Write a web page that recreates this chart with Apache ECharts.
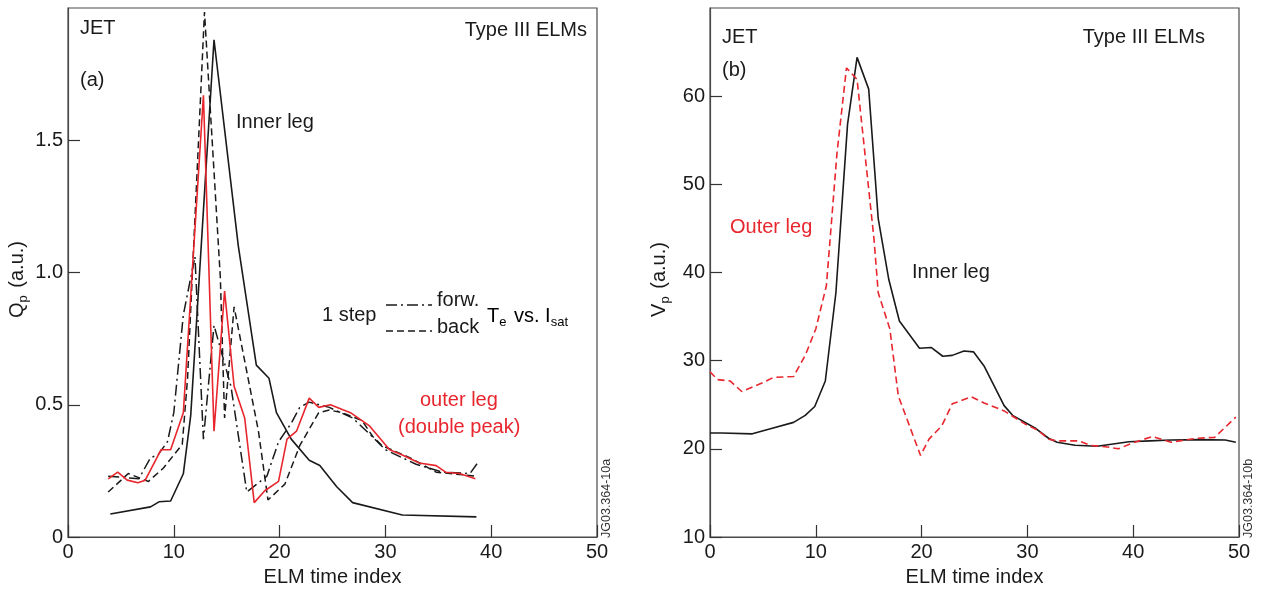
<!DOCTYPE html>
<html><head><meta charset="utf-8">
<script src="https://cdn.jsdelivr.net/npm/echarts@6/dist/echarts.min.js"></script>
<style>html,body{margin:0;padding:0;background:#fff}#c{width:1263px;height:592px}</style>
</head><body><div id="c"></div>
<script>
// Panel (a): Qp vs ELM time index
const innerQ = [[4.0,0.087],[7.8,0.114],[8.6,0.133],[9.7,0.136],[10.9,0.239],[11.6,0.46],[13.8,1.88],[16.1,1.10],[17.8,0.65],[19.0,0.60],[19.7,0.47],[21.1,0.37],[22.8,0.29],[23.8,0.27],[25.4,0.19],[26.9,0.13],[31.6,0.083],[38.6,0.076]];
const outerQ = [[3.8,0.22],[4.7,0.245],[5.6,0.215],[6.6,0.205],[7.3,0.215],[8.8,0.33],[9.7,0.33],[10.9,0.47],[12.8,1.67],[13.8,0.40],[14.8,0.93],[15.7,0.57],[16.7,0.45],[17.6,0.13],[18.6,0.175],[19.9,0.21],[20.7,0.37],[21.6,0.40],[22.8,0.525],[23.7,0.49],[24.8,0.50],[26.7,0.47],[28.5,0.42],[30.4,0.33],[31.6,0.31],[33.2,0.28],[34.8,0.27],[35.7,0.245],[37.0,0.24],[38.5,0.22]];
const forwQ = [[3.8,0.23],[6.7,0.22],[7.8,0.30],[8.5,0.31],[9.4,0.36],[10.0,0.47],[10.9,0.84],[12.0,1.06],[12.8,0.37],[13.8,0.80],[15.4,0.57],[16.9,0.17],[18.8,0.23],[19.9,0.36],[21.1,0.43],[21.9,0.49],[22.8,0.51],[24.7,0.49],[26.9,0.45],[28.5,0.39],[30.0,0.33],[32.9,0.275],[35.4,0.245],[38.0,0.24],[38.8,0.285]];
const backQ = [[3.8,0.17],[5.7,0.24],[7.6,0.21],[9.0,0.26],[10.8,0.35],[11.3,0.60],[12.9,1.985],[14.4,0.98],[14.8,0.45],[15.7,0.87],[18.0,0.40],[18.9,0.14],[20.5,0.20],[21.9,0.345],[23.7,0.47],[24.7,0.48],[25.9,0.47],[27.8,0.44],[28.8,0.38],[29.7,0.345],[32.3,0.30],[34.8,0.245],[38.6,0.23]];
// Panel (b): Vp vs ELM time index
const innerV = [[0,21.8],[1.1,21.8],[4.0,21.7],[5.8,22.3],[7.9,23.0],[9.0,23.8],[9.9,24.8],[10.9,27.7],[11.9,37.7],[13.0,56.8],[13.9,64.4],[15.0,60.8],[15.9,46.1],[16.9,39.2],[17.9,34.5],[19.8,31.4],[20.9,31.5],[22.0,30.5],[22.9,30.6],[24.0,31.1],[24.9,31.0],[25.9,29.4],[27.8,24.9],[28.6,23.8],[30.8,22.3],[32.0,21.2],[32.8,20.75],[34.5,20.4],[36.6,20.3],[39.6,20.8],[41.6,20.9],[43.6,21.0],[46.4,21.05],[48.7,21.0],[49.7,20.75]];
const outerV = [[0,28.75],[0.7,27.85],[1.9,27.7],[3.0,26.5],[4.8,27.4],[6.0,28.1],[7.9,28.2],[9.0,30.6],[10.0,33.6],[11.0,38.5],[12.0,53.5],[12.9,63.2],[13.9,61.9],[15.5,43.8],[15.9,37.7],[17.0,33.6],[17.8,26.0],[19.9,19.25],[20.7,21.1],[21.9,22.6],[22.9,25.1],[24.7,25.9],[25.9,25.2],[27.8,24.3],[29.8,22.8],[31.0,22.1],[32.0,21.1],[32.8,20.9],[34.9,20.9],[35.9,20.4],[37.6,20.2],[38.6,20.0],[39.8,20.6],[41.8,21.4],[43.6,20.75],[46.0,21.2],[47.7,21.3],[49.7,23.6]];

const FONT = 'Liberation Sans';
const BLACK = '#1a1a1a', RED = '#e8262d', AX = '#4a4a4a';
const chart = echarts.init(document.getElementById('c'), null, {renderer:'canvas'});

function xAx(gi){return {type:'value',gridIndex:gi,min:0,max:50,interval:10,
  name:'ELM time index',nameLocation:'middle',nameGap:30,
  nameTextStyle:{fontFamily:FONT,fontSize:20,color:BLACK},
  axisLine:{show:true,lineStyle:{color:AX,width:1.2}},
  axisTick:{show:true,inside:true,length:12,lineStyle:{color:'#333',width:1.2}},
  axisLabel:{fontFamily:FONT,fontSize:20,color:BLACK,margin:5,showMinLabel:true,showMaxLabel:true},
  splitLine:{show:false}};}
const subRich = {n:{fontFamily:FONT,fontSize:20,color:BLACK},s:{fontFamily:FONT,fontSize:13,color:BLACK,padding:[12,2,0,0]}};

const option = {
  animation:false,
  backgroundColor:'#fff',
  grid:[
    {left:68,top:8,width:529,height:530,show:true,borderColor:AX,borderWidth:1.2,containLabel:false},
    {left:710,top:8,width:529,height:530,show:true,borderColor:AX,borderWidth:1.2,containLabel:false}
  ],
  xAxis:[xAx(0),xAx(1)],
  yAxis:[
    {type:'value',gridIndex:0,min:0,max:2,interval:0.5,
     name:'{n|Q}{s|p}{n| (a.u.)}',nameLocation:'middle',nameGap:38,nameRotate:90,
     nameTextStyle:{rich:subRich,padding:[0,14,0,0]},
     axisLine:{show:true,lineStyle:{color:AX,width:1.2}},
     axisTick:{show:true,inside:true,length:12,lineStyle:{color:'#333',width:1.2}},
     axisLabel:{fontFamily:FONT,fontSize:20,color:BLACK,margin:5,showMaxLabel:false,
       formatter:v=>v===0?'0':v.toFixed(1)},
     splitLine:{show:false}},
    {type:'value',gridIndex:1,min:10,max:70,interval:10,
     name:'{n|V}{s|p}{n| (a.u.)}',nameLocation:'middle',nameGap:38,nameRotate:90,
     nameTextStyle:{rich:subRich,padding:[0,14,0,0]},
     axisLine:{show:true,lineStyle:{color:AX,width:1.2}},
     axisTick:{show:true,inside:true,length:12,lineStyle:{color:'#333',width:1.2}},
     axisLabel:{fontFamily:FONT,fontSize:20,color:BLACK,margin:5,showMaxLabel:false},
     splitLine:{show:false}}
  ],
  series:[
    {name:'Inner leg',type:'line',xAxisIndex:0,yAxisIndex:0,data:innerQ,showSymbol:false,lineStyle:{color:BLACK,width:1.6}},
    {name:'forw.',type:'line',xAxisIndex:0,yAxisIndex:0,data:forwQ,showSymbol:false,lineStyle:{color:BLACK,width:1.5,type:[11,4,2,4]}},
    {name:'back',type:'line',xAxisIndex:0,yAxisIndex:0,data:backQ,showSymbol:false,lineStyle:{color:BLACK,width:1.5,type:[7,4]}},
    {name:'outer leg',type:'line',xAxisIndex:0,yAxisIndex:0,data:outerQ,showSymbol:false,lineStyle:{color:RED,width:1.6}},
    {name:'Inner leg V',type:'line',xAxisIndex:1,yAxisIndex:1,data:innerV,showSymbol:false,lineStyle:{color:BLACK,width:1.6}},
    {name:'Outer leg V',type:'line',xAxisIndex:1,yAxisIndex:1,data:outerV,showSymbol:false,lineStyle:{color:RED,width:1.6,type:[7,4]}}
  ],
  graphic:[
    {type:'text',left:80,top:18,style:{text:'JET',font:'20px '+FONT,fill:BLACK}},
    {type:'text',left:80,top:70,style:{text:'(a)',font:'20px '+FONT,fill:BLACK}},
    {type:'text',right:1263-587,top:20,style:{text:'Type III ELMs',font:'20px '+FONT,fill:BLACK}},
    {type:'text',left:236,top:112,style:{text:'Inner leg',font:'20px '+FONT,fill:BLACK}},
    {type:'text',left:322,top:305,style:{text:'1 step',font:'20px '+FONT,fill:BLACK}},
    {type:'line',shape:{x1:386,y1:305,x2:432,y2:305},style:{stroke:BLACK,lineWidth:1.4,lineDash:[11,4,2,4]}},
    {type:'line',shape:{x1:386,y1:331,x2:432,y2:331},style:{stroke:BLACK,lineWidth:1.4,lineDash:[7,4]}},
    {type:'text',left:437,top:290,style:{text:'forw.',font:'20px '+FONT,fill:BLACK}},
    {type:'text',left:437,top:317,style:{text:'back',font:'20px '+FONT,fill:BLACK}},
    {type:'text',left:487,top:306,style:{text:'{n|T}{s|e}{n| vs. I}{s|sat}',rich:subRich}},
    {type:'text',left:420,top:390,style:{text:'outer leg',font:'20px '+FONT,fill:RED}},
    {type:'text',left:398,top:417,style:{text:'(double peak)',font:'20px '+FONT,fill:RED}},
    {type:'text',x:613,y:538,rotation:Math.PI/2,style:{text:'JG03.364-10a',font:'12.5px '+FONT,fill:'#333',textAlign:'left',textVerticalAlign:'bottom'}},
    {type:'text',left:722,top:27,style:{text:'JET',font:'20px '+FONT,fill:BLACK}},
    {type:'text',left:722,top:60,style:{text:'(b)',font:'20px '+FONT,fill:BLACK}},
    {type:'text',right:1263-1205,top:27,style:{text:'Type III ELMs',font:'20px '+FONT,fill:BLACK}},
    {type:'text',left:730,top:217,style:{text:'Outer leg',font:'20px '+FONT,fill:RED}},
    {type:'text',left:912,top:262,style:{text:'Inner leg',font:'20px '+FONT,fill:BLACK}},
    {type:'text',x:1255,y:538,rotation:Math.PI/2,style:{text:'JG03.364-10b',font:'12.5px '+FONT,fill:'#333',textAlign:'left',textVerticalAlign:'bottom'}}
  ]
};
chart.setOption(option);
</script></body></html>
